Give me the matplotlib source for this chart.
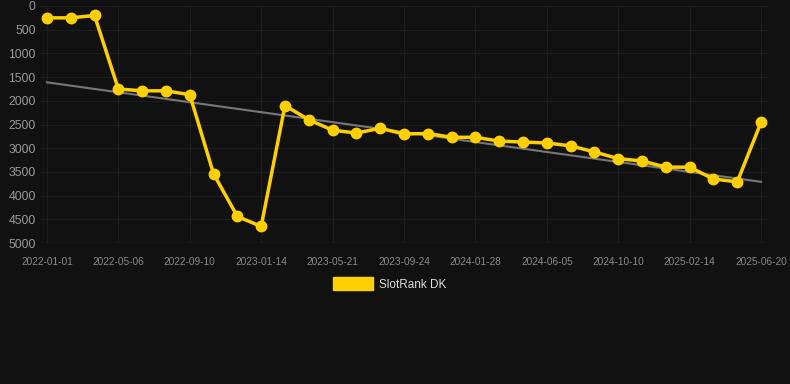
import matplotlib
matplotlib.use("Agg")
import matplotlib.pyplot as plt
from matplotlib.patches import Patch

# rank snapshots, one every ~6 weeks
dates = ["2022-01-01", "2022-02-12", "2022-03-24", "2022-05-06", "2022-06-17",
         "2022-07-29", "2022-09-10", "2022-10-22", "2022-12-03", "2023-01-14",
         "2023-02-25", "2023-04-08", "2023-05-21", "2023-07-02", "2023-08-13",
         "2023-09-24", "2023-11-05", "2023-12-17", "2024-01-28", "2024-03-10",
         "2024-04-23", "2024-06-05", "2024-07-17", "2024-08-29", "2024-10-10",
         "2024-11-21", "2025-01-03", "2025-02-14", "2025-03-28", "2025-05-09",
         "2025-06-20"]
ranks = [250, 250, 200, 1750, 1790, 1790, 1870, 3540, 4440, 4650,
         2100, 2400, 2620, 2680, 2580, 2700, 2690, 2770, 2770, 2850,
         2870, 2890, 2950, 3080, 3220, 3270, 3400, 3400, 3650, 3710,
         2450]
trend_start, trend_end = 1610, 3710
series_name = "SlotRank DK"

bg = "#111111"
yellow = "#ffd000"

fig = plt.figure(figsize=(7.9, 3.84), dpi=100, facecolor=bg)
ax = fig.add_axes([40 / 790, 1 - 243 / 384, 728 / 790, 237 / 384], facecolor=bg)

x = list(range(len(dates)))
ax.plot([x[0], x[-1]], [trend_start, trend_end], color="#777777", lw=1.5, zorder=2)
ax.plot(x, ranks, color=yellow, lw=2.5, marker="o", ms=7.5, zorder=3)

ax.set_xlim(-0.29, x[-1] + 0.29)
ax.set_ylim(5000, 0)
ax.set_yticks(range(0, 5001, 500))
ax.set_xticks(x[::3])
ax.set_xticklabels(dates[::3])

ax.grid(True, color="#1d1d1d", lw=0.8)
for s in ax.spines.values():
    s.set_visible(False)
ax.axhline(5000, color="#2a2a2a", lw=1)

ax.tick_params(length=0)
ax.tick_params(axis="x", pad=10)
ax.tick_params(axis="y", pad=3)
for lab in ax.get_xticklabels():
    lab.set_fontfamily("Liberation Sans")
    lab.set_fontsize(7.3)
    lab.set_color("#8a8a8a")
for lab in ax.get_yticklabels():
    lab.set_fontfamily("Liberation Sans")
    lab.set_fontsize(8.7)
    lab.set_color("#9a9a9a")

leg = fig.legend(handles=[Patch(color=yellow, label=series_name)],
                 loc="center", bbox_to_anchor=(390 / 790, 1 - 284 / 384),
                 frameon=False, handlelength=3.4, handleheight=1.2,
                 handletextpad=0.5, prop={"family": "Liberation Sans", "size": 8.5})
for t in leg.get_texts():
    t.set_color("#dddddd")

fig.savefig("out.png", dpi=100, facecolor=bg)
